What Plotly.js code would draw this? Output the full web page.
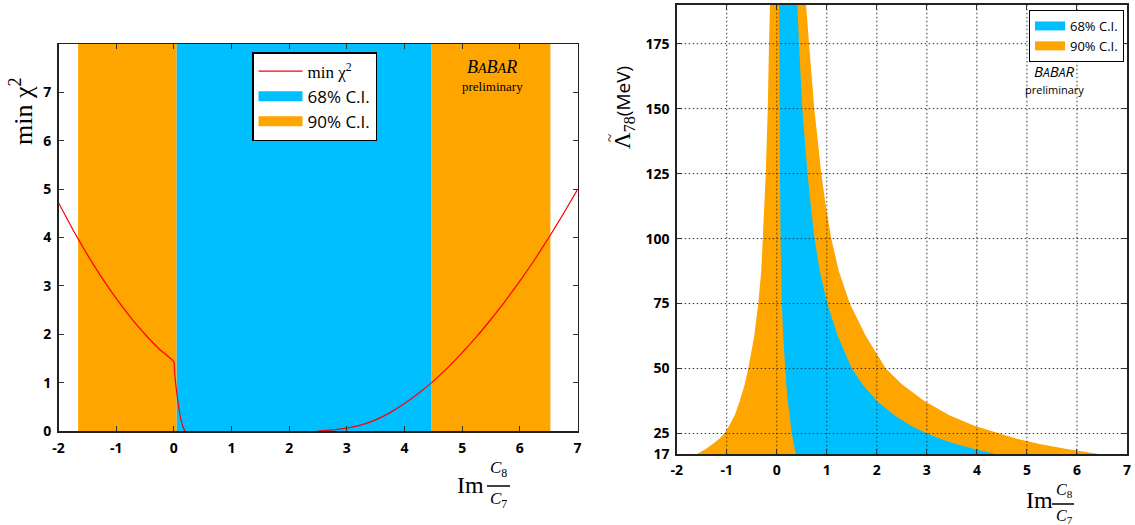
<!DOCTYPE html>
<html><head><meta charset="utf-8">
<script src="https://cdn.plot.ly/plotly-3.0.1.min.js"></script>
<style>html,body{margin:0;padding:0;background:#fff}</style>
</head><body>
<div id="chart" style="width:1135px;height:525px"></div>
<script>
// ---- Left panel: min chi^2 vs Im(C8/C7) ----
// (the flat part at chi^2 = 0 between 0.19 and 2.5 lies on the frame and is hidden -> gap)
const chiX = [-2.0,-1.75,-1.63,-1.5,-1.25,-1.0,-0.75,-0.5,-0.25,0.0,0.015,0.03,0.06,0.09,0.12,0.15,0.19,null,2.5,2.6,2.8,3.0,3.25,3.5,3.75,4.0,4.25,4.47,4.75,5.0,5.25,5.5,5.75,6.0,6.25,6.52,6.75,7.0];
const chiY = [4.72,4.16,3.91,3.645,3.17,2.74,2.35,2.0,1.69,1.43,1.2,1.0,0.7,0.45,0.25,0.12,0.0,null,0.0,0.01,0.03,0.06,0.125,0.23,0.38,0.567,0.785,1.0,1.31,1.62,1.95,2.31,2.69,3.10,3.53,4.03,4.48,4.99];
const band90Low = [-1.66, 0.05];
const band68 = [0.05, 4.47];
const band90High = [4.47, 6.53];
const chiRange = [0, 8];
const chiTicks = [0,1,2,3,4,5,6,7];
const xTickVals = [-2,-1,0,1,2,3,4,5,6,7];
const xTickText = ['-2','-1','0','1','2','3','4','5','6','7'];

// ---- Right panel: Lambda_78 vs Im(C8/C7) ----
const lambda      = [17, 19, 21, 23, 25, 28, 32, 37.5, 44, 50, 62.5, 75, 87.5, 100, 112.5, 125, 150, 175, 190];
const orangeLeft  = [-1.60,-1.42,-1.28,-1.15,-1.05,-0.95,-0.84,-0.74,-0.64,-0.57,-0.45,-0.37,-0.31,-0.28,-0.25,-0.22,-0.18,-0.155,-0.135];
const cyanLeft    = [0.38,0.36,0.34,0.32,0.30,0.28,0.26,0.22,0.19,0.17,0.13,0.10,0.088,0.075,0.07,0.063,0.058,0.052,0.046];
const cyanRight   = [4.40,3.95,3.58,3.26,3.00,2.68,2.35,2.00,1.71,1.50,1.22,1.01,0.86,0.755,0.68,0.615,0.51,0.445,0.41];
const orangeRight = [6.47,5.80,5.25,4.80,4.45,3.95,3.45,2.95,2.50,2.18,1.78,1.46,1.24,1.09,0.98,0.89,0.75,0.645,0.585];
const lambdaRange = [17, 190];
const lambdaTicks = [17, 25, 50, 75, 100, 125, 150, 175];

const CYAN = '#00bfff', ORANGE = '#ffa500';
const tickFont = {family: 'Open Sans, sans-serif', size: 14, weight: 'bold', color: '#000'};

function bandTrace(lim, color) {
  return {x: [lim[0], lim[0], lim[1], lim[1]], y: [chiRange[0], chiRange[1], chiRange[1], chiRange[0]],
    xaxis: 'x', yaxis: 'y', mode: 'none', fill: 'toself', fillcolor: color,
    line: {width: 0}, showlegend: false, hoverinfo: 'skip'};
}
const rev = a => a.slice().reverse();

const traces = [
  bandTrace(band90Low, ORANGE),
  bandTrace(band68, CYAN),
  bandTrace(band90High, ORANGE),
  {x: chiX, y: chiY, xaxis: 'x', yaxis: 'y', mode: 'lines', connectgaps: false,
   line: {color: '#ff0000', width: 1.2, shape: 'spline', smoothing: 0.4},
   name: '<span style="font-family:Liberation Serif,serif;font-size:17px">min χ<sup>2</sup></span>', legend: 'legend'},
  {x: [null], y: [null], xaxis: 'x', yaxis: 'y', mode: 'lines', line: {color: CYAN, width: 13}, name: '68% C.I.', legend: 'legend'},
  {x: [null], y: [null], xaxis: 'x', yaxis: 'y', mode: 'lines', line: {color: ORANGE, width: 13}, name: '90% C.I.', legend: 'legend'},
  // right panel
  {x: orangeLeft.concat(rev(orangeRight)), y: lambda.concat(rev(lambda)), xaxis: 'x2', yaxis: 'y2',
   mode: 'none', fill: 'toself', fillcolor: ORANGE, line: {width: 0}, showlegend: false, hoverinfo: 'skip'},
  {x: cyanLeft.concat(rev(cyanRight)), y: lambda.concat(rev(lambda)), xaxis: 'x2', yaxis: 'y2',
   mode: 'none', fill: 'toself', fillcolor: CYAN, line: {width: 0}, showlegend: false, hoverinfo: 'skip'},
  {x: [null], y: [null], xaxis: 'x2', yaxis: 'y2', mode: 'lines', line: {color: CYAN, width: 9}, name: '68% C.I.', legend: 'legend2'},
  {x: [null], y: [null], xaxis: 'x2', yaxis: 'y2', mode: 'lines', line: {color: ORANGE, width: 9}, name: '90% C.I.', legend: 'legend2'}
];

const W = 1135, H = 525;
const px = v => v / W, py = v => 1 - v / H;

const axBase = {showline: true, linecolor: '#222', linewidth: 1.5, mirror: 'ticks', ticks: 'inside',
  ticklen: 5, tickwidth: 1, tickcolor: '#333', showgrid: false, zeroline: false, tickfont: tickFont, layer: 'above traces'};

// dotted grid drawn above the bands on the right panel
const gridLine = {color: '#333', width: 1, dash: '1.5px,2.5px'};
const shapes = [];
xTickVals.slice(1, -1).forEach(v => shapes.push({type: 'line', xref: 'x2', yref: 'y2 domain', x0: v, x1: v, y0: 0, y1: 1,
  line: gridLine, layer: 'above'}));
lambdaTicks.slice(1).forEach(v => shapes.push({type: 'line', xref: 'x2 domain', yref: 'y2', x0: 0, x1: 1, y0: v, y1: v,
  line: gridLine, layer: 'above'}));
// fraction bars for Im(C8/C7)
shapes.push({type: 'line', xref: 'paper', yref: 'paper', x0: px(487), x1: px(510), y0: py(486), y1: py(486), line: {color: '#000', width: 1.5}});
shapes.push({type: 'line', xref: 'paper', yref: 'paper', x0: px(1052), x1: px(1074), y0: py(504), y1: py(504), line: {color: '#000', width: 1.5}});

const serif = 'Liberation Serif, Times New Roman, serif';
const sans = 'Open Sans, sans-serif';
function ann(text, x, y, size, family, extra) {
  return Object.assign({text: text, xref: 'paper', yref: 'paper', x: px(x), y: py(y), xanchor: 'center', yanchor: 'middle',
    showarrow: false, font: {family: family, size: size, color: '#000'}}, extra || {});
}
const annotations = [
  ann('min χ<sup>2</sup>', 22, 111, 26, serif, {textangle: -90}),
  ann('<i>B<span style="font-size:14px">A</span>B<span style="font-size:14px">A</span>R</i>', 492, 67, 18, serif),
  ann('preliminary', 492, 86, 13, serif),
  ann('Im', 470, 485, 24, serif),
  ann('<i>C</i><sub>8</sub>', 498, 469, 17, serif),
  ann('<i>C</i><sub>7</sub>', 498, 500, 17, serif),
  ann('Λ<sub>78</sub><span style="font-family:Open Sans,sans-serif;font-size:19px">(MeV)</span>', 624, 108, 23, serif, {textangle: -90}),
  ann('~', 610, 138, 15, serif, {textangle: -90}),
  ann('<i>B<span style="font-size:12px">A</span>B<span style="font-size:12px">A</span>R</i>', 1054, 71, 15, sans),
  ann('preliminary', 1054, 89, 11, sans),
  ann('Im', 1039, 500, 24, serif),
  ann('<i>C</i><sub>8</sub>', 1064, 490, 16, serif),
  ann('<i>C</i><sub>7</sub>', 1064, 516, 16, serif)
];

const layout = {
  width: W, height: H, margin: {l: 0, r: 0, t: 0, b: 0},
  paper_bgcolor: '#fff', plot_bgcolor: '#fff',
  xaxis: Object.assign({}, axBase, {domain: [px(58.5), px(577.5)], range: [-2, 7], tickvals: xTickVals, ticktext: xTickText, anchor: 'y', ticklabelstandoff: 4}),
  yaxis: Object.assign({}, axBase, {domain: [py(431), py(44)], range: chiRange, tickvals: chiTicks, anchor: 'x', ticklabelstandoff: 3}),
  xaxis2: Object.assign({}, axBase, {domain: [px(676.7), px(1127)], range: [-2, 7], tickvals: xTickVals, ticktext: xTickText, anchor: 'y2', ticklabelstandoff: 2}),
  yaxis2: Object.assign({}, axBase, {domain: [py(454.3), py(4.7)], range: lambdaRange, tickvals: lambdaTicks, anchor: 'x2', ticklabelstandoff: 3}),
  legend: {x: px(252), y: py(52), xanchor: 'left', yanchor: 'top', bgcolor: '#fff', bordercolor: '#000', borderwidth: 1.5,
    font: {family: sans, size: 17, color: '#000'}, itemwidth: 44, tracegroupgap: 0},
  legend2: {x: px(1029), y: py(10), xanchor: 'left', yanchor: 'top', bgcolor: '#fff', bordercolor: '#000', borderwidth: 1,
    font: {family: sans, size: 13, color: '#000'}, itemwidth: 30, tracegroupgap: 0},
  shapes: shapes,
  annotations: annotations,
  showlegend: true
};

Plotly.newPlot('chart', traces, layout, {displayModeBar: false, staticPlot: true});
</script>
</body></html>
